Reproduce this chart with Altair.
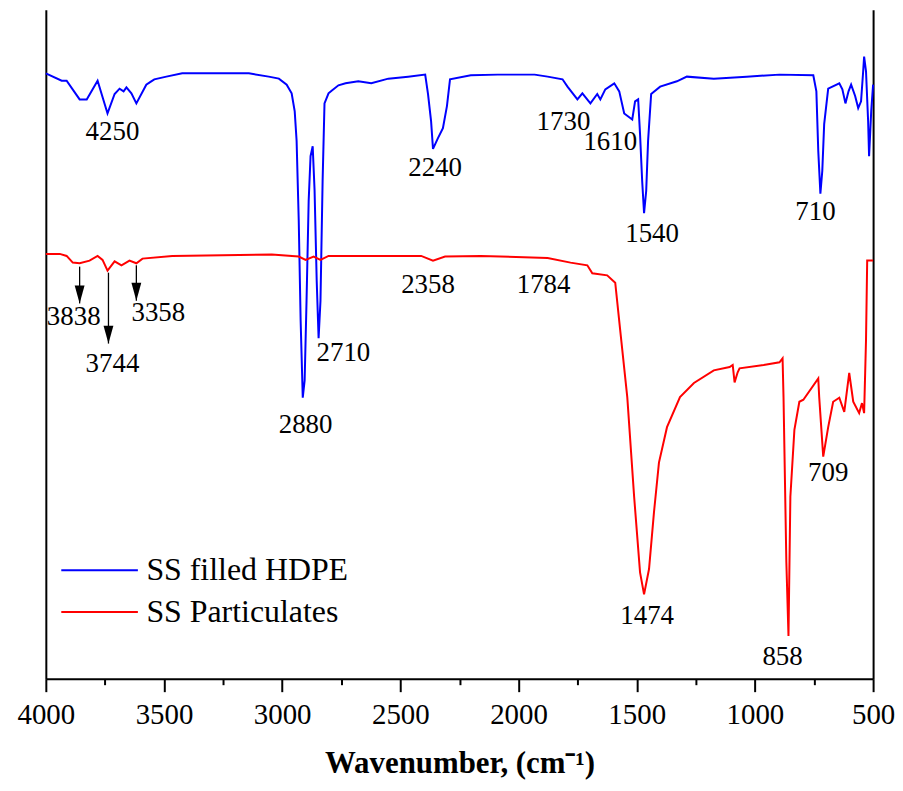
import altair as alt
import pandas as pd

# ---- data (wavenumber in cm-1, transmittance in a.u.) ----
blue_name = "SS filled HDPE"
blue_w = [4000, 3933, 3912, 3857, 3827, 3781, 3739, 3709, 3688, 3671,
          3659, 3638, 3617, 3575, 3554, 3541, 3490, 3423, 3267, 3141,
          3057, 3014, 2981, 2960, 2947, 2939, 2930, 2922, 2913, 2905,
          2897, 2888, 2880, 2871, 2863, 2854, 2846, 2838, 2829, 2821,
          2804, 2791, 2762, 2732, 2678, 2623, 2551, 2467, 2395, 2383,
          2370, 2362, 2341, 2320, 2303, 2290, 2202, 2088, 1932, 1877,
          1814, 1793, 1751, 1730, 1696, 1667, 1654, 1633, 1595, 1574,
          1553, 1519, 1507, 1494, 1486, 1477, 1469, 1460, 1452, 1439,
          1401, 1330, 1288, 1174, 1035, 896, 753, 740, 732, 723,
          715, 707, 690, 643, 630, 617, 604, 593, 576, 563,
          551, 542, 538, 530, 521, 517, 508, 500]
blue_t = [90.5, 89.4, 89.4, 86.6, 86.6, 89.4, 84.5, 87.4, 88.2, 87.8,
          88.4, 87.5, 86.0, 88.8, 89.3, 89.6, 90.0, 90.5, 90.5, 90.5,
          90.0, 89.7, 88.8, 87.5, 84.8, 80.4, 68.5, 53.6, 42.0, 44.6,
          56.5, 71.4, 78.1, 79.6, 73.0, 59.5, 50.9, 56.5, 74.4, 86.0,
          87.5, 87.9, 88.7, 89.0, 89.3, 89.0, 89.7, 90.0, 90.3, 87.4,
          83.3, 79.2, 80.8, 82.3, 85.6, 89.6, 90.2, 90.3, 90.3, 90.0,
          89.6, 88.5, 86.6, 87.5, 86.0, 87.4, 86.6, 88.1, 89.0, 87.8,
          84.5, 83.6, 86.3, 86.6, 81.4, 74.4, 69.6, 72.9, 80.4, 87.4,
          88.5, 89.3, 90.0, 89.7, 90.0, 90.3, 90.2, 87.8, 78.9, 72.5,
          75.9, 82.9, 88.2, 89.0, 88.1, 86.0, 87.8, 88.8, 87.1, 85.3,
          86.3, 90.8, 93.0, 90.8, 83.3, 78.1, 84.8, 88.8]

red_name = "SS Particulates"
red_w = [4000, 3941, 3912, 3886, 3857, 3815, 3781, 3760, 3739, 3709,
         3680, 3646, 3617, 3591, 3465, 3044, 2930, 2901, 2867, 2838,
         2804, 2412, 2362, 2311, 2160, 1877, 1780, 1709, 1688, 1625,
         1591, 1570, 1540, 1511, 1486, 1469, 1448, 1427, 1406, 1372,
         1317, 1258, 1174, 1107, 1094, 1086, 1073, 1065, 963, 896,
         883, 879, 867, 858, 850, 833, 812, 795, 732, 728,
         711, 690, 669, 643, 622, 601, 584, 559, 547, 538,
         530, 525, 500]
red_t = [63.5, 63.5, 63.2, 62.2, 62.1, 62.5, 63.2, 62.6, 61.0, 62.4,
         61.8, 62.5, 62.1, 62.8, 63.2, 63.4, 63.1, 62.6, 63.1, 62.6,
         63.2, 63.2, 62.5, 63.1, 63.2, 62.9, 62.2, 61.8, 60.6, 60.3,
         59.2, 52.1, 42.1, 27.2, 15.9, 12.6, 16.4, 24.9, 32.3, 37.6,
         42.1, 44.2, 46.1, 46.6, 46.9, 44.3, 45.8, 46.4, 46.9, 47.3,
         47.9, 42.1, 17.4, 6.4, 27.2, 37.2, 41.4, 41.7, 44.9, 42.1,
         33.2, 37.6, 41.4, 42.0, 39.9, 45.7, 41.4, 39.7, 41.2, 39.7,
         50.6, 62.5, 62.5]

peak_labels = ["4250", "2240", "1730", "1610", "1540", "710",
               "3838", "3744", "3358", "2710", "2880", "2358",
               "1784", "1474", "858", "709"]
peak_label_w = [3718, 2353, 1810, 1612, 1435, 744,
                3882, 3718, 3524, 2741, 2901, 2383,
                1894, 1456, 883, 690]
peak_label_t = [81.7, 76.3, 83.2, 80.2, 66.5, 69.8,
                54.0, 47.0, 54.6, 48.7, 37.9, 58.8,
                58.8, 9.4, 3.3, 30.8]

arrow_w = [3857, 3735, 3617]
arrow_start_t = [61.6, 60.7, 61.8]
arrow_tip_t = [56.1, 50.1, 56.5]

major_ticks = [4000, 3500, 3000, 2500, 2000, 1500, 1000, 500]
minor_ticks = [3750, 3250, 2750, 2250, 1750, 1250, 750]

# ---- tables ----
spectra = pd.concat([
    pd.DataFrame({"wavenumber": blue_w, "transmittance": blue_t, "sample": blue_name}),
    pd.DataFrame({"wavenumber": red_w, "transmittance": red_t, "sample": red_name}),
], ignore_index=True)
labels_df = pd.DataFrame({"wavenumber": peak_label_w, "transmittance": peak_label_t,
                          "label": peak_labels})
arrows_df = pd.DataFrame({"wavenumber": arrow_w, "start": arrow_start_t, "tip": arrow_tip_t})

FONT = "Liberation Serif"
x_scale = alt.Scale(domain=[500, 4000], reverse=True, nice=False, zero=False)
y_scale = alt.Scale(domain=[0, 100], nice=False, zero=False)

lines = alt.Chart(spectra).mark_line(strokeWidth=2).encode(
    x=alt.X("wavenumber:Q", scale=x_scale,
            axis=alt.Axis(orient="bottom", values=major_ticks, format="d",
                          tickSize=13, tickWidth=2, tickColor="black",
                          domainWidth=2, domainColor="black", grid=False,
                          labelFont=FONT, labelFontSize=29, labelColor="black",
                          labelPadding=9, labelFlush=False, labelOverlap=False,
                          title="Wavenumber, (cm\u207b\u00b9)", titleFont=FONT,
                          titleFontSize=31, titleFontWeight="bold", titleColor="black",
                          titleBaseline="alphabetic", titleY=94)),
    y=alt.Y("transmittance:Q", scale=y_scale,
            axis=alt.Axis(orient="left", labels=False, ticks=False, grid=False,
                          domainWidth=2, domainColor="black", title=None)),
    color=alt.Color("sample:N",
                    scale=alt.Scale(domain=[blue_name, red_name], range=["#0000FF", "#FF0000"]),
                    legend=alt.Legend(orient="none", legendX=38, legendY=547, title=None,
                                      symbolType="M-4,0L4,0", symbolSize=370,
                                      symbolStrokeWidth=2, labelFont=FONT, labelFontSize=32,
                                      labelColor="black", labelLimit=500, labelOffset=31,
                                      rowPadding=10, padding=0)),
)

texts = alt.Chart(labels_df).mark_text(font=FONT, fontSize=27, color="black",
                                       align="center", baseline="middle").encode(
    x=alt.X("wavenumber:Q", scale=x_scale,
            axis=alt.Axis(orient="bottom", values=minor_ticks, labels=False, domain=False,
                          tickSize=6, tickWidth=2, tickColor="black", grid=False, title=None)),
    y=alt.Y("transmittance:Q", scale=y_scale,
            axis=alt.Axis(orient="right", labels=False, ticks=False, grid=False,
                          domainWidth=2, domainColor="black", title=None)),
    text="label:N",
)

shafts = alt.Chart(arrows_df).mark_rule(color="black", strokeWidth=1.3).encode(
    x=alt.X("wavenumber:Q", scale=x_scale, axis=None),
    y=alt.Y("start:Q", scale=y_scale, axis=None),
    y2="tip:Q",
)

heads = alt.Chart(arrows_df).mark_point(filled=True, color="black", opacity=1,
                                        shape="M-0.55,-2L0.55,-2L0,0Z", size=324,
                                        strokeWidth=0).encode(
    x=alt.X("wavenumber:Q", scale=x_scale, axis=None),
    y=alt.Y("tip:Q", scale=y_scale, axis=None),
)

chart = alt.layer(lines, texts, shafts, heads).resolve_axis(
    x="independent", y="independent"
).properties(
    width=831, height=672,
    autosize=alt.AutoSizeParams(type="none"),
    padding={"left": 38, "top": 0, "right": 22, "bottom": 102},
).configure_view(strokeWidth=0)

chart.save("out.html", embed_options={"renderer": "svg", "actions": False})
